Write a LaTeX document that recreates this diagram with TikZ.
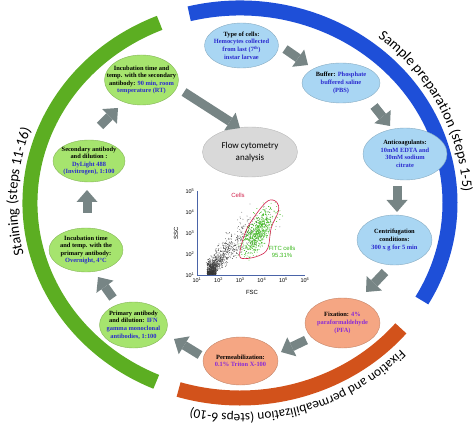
\documentclass[tikz,border=0pt]{standalone}
\usepackage{fontspec}
\setmainfont{Liberation Serif}
\newfontfamily\carlito{Carlito}
\newfontfamily\plotsans{Liberation Sans}
\usetikzlibrary{shapes.geometric,arrows.meta,decorations.text,calc}
\definecolor{ringblue}{HTML}{1E4FD8}
\definecolor{ringgreen}{HTML}{5CAE22}
\definecolor{ringorange}{HTML}{D2521B}
\definecolor{fillblue}{HTML}{A9D6F3}
\definecolor{fillgreen}{HTML}{A6E46E}
\definecolor{fillorange}{HTML}{F5A683}
\definecolor{fillgray}{HTML}{D9D9D9}
\definecolor{arrowgray}{HTML}{778585}
\definecolor{txtblue}{HTML}{2A2ACF}
\definecolor{txtpurple}{HTML}{8A2BD6}
\definecolor{gatered}{HTML}{D0204A}
\definecolor{fitcgreen}{HTML}{3CB81E}
\definecolor{axisblue}{HTML}{4A64A8}
\newcommand\bt[1]{\textcolor{txtblue}{#1}}
\newcommand\pu[1]{\textcolor{txtpurple}{#1}}
\newcommand\arcfont{\carlito\fontsize{14.5}{14.5}\selectfont}
\newcommand\arcfontb{\carlito\fontsize{13.3}{13.3}\selectfont}
\begin{document}
\begin{tikzpicture}[x=1pt,y=1pt,
  stepnode/.style={ellipse, inner sep=0pt, line width=0.4pt},
  bluenode/.style={stepnode, fill=fillblue, draw=fillblue!80!black},
  greennode/.style={stepnode, fill=fillgreen, draw=fillgreen!80!black},
  orangenode/.style={stepnode, fill=fillorange, draw=fillorange!80!black},
  graynode/.style={stepnode, fill=fillgray, draw=fillgray!85!black},
  nodetext/.style={align=center, inner sep=0pt, font=\bfseries\fontsize{6.4}{7.6}\selectfont},
  fatarrow/.style={draw=arrowgray, line width=9pt, -{Triangle[width=21pt,length=12pt,line width=0pt,fill=arrowgray]}},
  ring/.style={line width=15pt},
  ticklab/.style={font=\plotsans\fontsize{5.5}{6}\selectfont, inner sep=0.5pt},
]
\useasboundingbox (0,0) rectangle (474,429);
\coordinate (C) at (240,226);
% rings
\draw[ring, ringblue] (C) ++(104:210 and 195) arc[start angle=104, end angle=-30, x radius=210, y radius=195];
\draw[ring, ringgreen] (C) ++(112.5:210 and 195) arc[start angle=112.5, end angle=246.5, x radius=210, y radius=195];
\draw[ring, ringorange] (C) ++(-107:210 and 195) arc[start angle=-107, end angle=-40, x radius=210, y radius=195];
% ring texts
\path[decorate, decoration={text along path, text align=center, text={|\arcfont|Sample preparation (steps 1-5)}}]
  (C) ++(72:223 and 211) arc[start angle=72, end angle=-18, x radius=223, y radius=211];
\path[decorate, decoration={text along path, text align=center, text={|\arcfont|Staining (steps 11-16)}}]
  (C) ++(215:223 and 211) arc[start angle=215, end angle=139, x radius=223, y radius=211];
\path[decorate, decoration={text along path, text align=center, text={|\arcfontb|Fixation and permeabilization (steps 6-10)}}]
  (C) ++(-18:223 and 211) arc[start angle=-18, end angle=-128, x radius=223, y radius=211];
% step nodes
\node[bluenode, minimum width=74pt, minimum height=45pt] (n1) at (241.5,383.5) {};
\node[nodetext] (t1) at (n1) {Type of cells:\\\bt{Hemocytes collected}\\\bt{from last (7\textsuperscript{th})}\\\bt{instar larvae}};
\node[bluenode, minimum width=78pt, minimum height=40pt] (n2) at (341,346) {};
\node[nodetext] (t2) at (n2) {Buffer: \bt{Phosphate}\\\bt{buffered saline}\\\bt{(PBS)}};
\node[bluenode, minimum width=84pt, minimum height=52pt] (n3) at (405,275) {};
\node[nodetext] (t3) at (n3) {Anticoagulants:\\\bt{10mM EDTA and}\\\bt{30mM sodium}\\\bt{citrate}};
\node[bluenode, minimum width=75pt, minimum height=50pt] (n4) at (394.5,189) {};
\node[nodetext] (t4) at (n4) {Centrifugation\\conditions:\\\bt{300 x g for 5 min}};
\node[orangenode, minimum width=75pt, minimum height=50pt] (n5) at (342.5,106) {};
\node[nodetext] (t5) at (n5) {Fixation: \pu{4\%}\\\pu{paraformaldehyde}\\\pu{(PFA)}};
\node[orangenode, minimum width=75pt, minimum height=48pt] (n6) at (240.5,68) {};
\node[nodetext] (t6) at (n6) {Permeabilization:\\\pu{0.1\% Triton X-100}};
\node[greennode, minimum width=68pt, minimum height=46pt] (n7) at (133.5,104) {};
\node[nodetext] (t7) at (n7) {Primary antibody\\and dilution: \bt{IFN}\\\bt{gamma monoclonal}\\\bt{antibodies, 1:100}};
\node[greennode, minimum width=74pt, minimum height=44pt] (n8) at (86,179) {};
\node[nodetext] (t8) at (n8) {Incubation time\\and temp. with the\\primary antibody:\\\bt{Overnight, 4°C}};
\node[greennode, minimum width=72pt, minimum height=42pt] (n9) at (89,268) {};
\node[nodetext] (t9) at (n9) {Secondary antibody\\and dilution :\\\bt{DyLight 488}\\\bt{(Invitrogen), 1:100}};
\node[greennode, minimum width=74pt, minimum height=50pt] (n10) at (141.5,349) {};
\node[nodetext] (t10) at (n10) {Incubation time and\\temp. with the secondary\\antibody: \bt{90 min, room}\\\bt{temperature (RT)}};
\node[graynode, minimum width=95pt, minimum height=50pt] (n11) at (250,277) {};
\node[align=center, inner sep=0pt, font=\carlito\fontsize{9}{11.5}\selectfont] (t11) at (n11) {Flow cytometry\\analysis};
% arrows
\coordinate (a1s) at (285,380); \coordinate (a1e) at (308,364);
\coordinate (a2s) at (374,323); \coordinate (a2e) at (390,303);
\coordinate (a3s) at (397,243); \coordinate (a3e) at (397,217);
\coordinate (a4s) at (385,157); \coordinate (a4e) at (366,137);
\coordinate (a5s) at (306,89);  \coordinate (a5e) at (281,77);
\coordinate (a6s) at (200,74);  \coordinate (a6e) at (174,90);
\coordinate (a7s) at (113,131); \coordinate (a7e) at (98,152);
\coordinate (a8s) at (87,216);  \coordinate (a8e) at (87,239);
\coordinate (a9s) at (100,303); \coordinate (a9e) at (118,321);
\coordinate (a10s) at (184,337); \coordinate (a10e) at (240,301);
\foreach \k in {1,...,10}{\draw[fatarrow] (a\k s) -- (a\k e);}
% plot
\coordinate (O) at (197,154);
\begin{scope}
\pgfmathsetseed{11}
\foreach \k in {1,...,380}{
  \pgfmathsetmacro{\qx}{0.47+0.42*rnd}
  \pgfmathsetmacro{\qy}{0.03+0.75*rnd*rnd}
  \fill[black!80] ({197+21.6*\qx},{154+21*\qy}) circle[radius=0.45];
}
\foreach \k in {1,...,700}{
  \pgfmathsetmacro{\qt}{rnd*rnd}
  \pgfmathsetmacro{\qn}{(rnd+rnd-1)*0.8*(0.45+\qt)}
  \pgfmathsetmacro{\qx}{max(0.35,0.65+2.7*\qt-0.7*\qn)}
  \pgfmathsetmacro{\qy}{max(0.03,0.35+2.8*\qt+0.7*\qn)}
  \fill[black!75] ({197+21.6*\qx},{154+21*\qy}) circle[radius=0.4];
}
\foreach \k in {1,...,650}{
  \pgfmathsetmacro{\qs}{(rnd+rnd+rnd-1.5)*1.2}
  \pgfmathsetmacro{\qp}{(rnd+rnd+rnd-1.5)*0.48}
  \pgfmathsetmacro{\qx}{2.87+0.5*\qs-0.87*\qp}
  \pgfmathsetmacro{\qy}{2.1+0.87*\qs+0.5*\qp}
  \fill[fitcgreen] ({197+21.6*\qx},{154+21*\qy}) circle[radius=0.45];
}
\end{scope}
\draw[gatered, line width=0.6pt] plot[smooth cycle, tension=0.6] coordinates {(239.6,174.6) (245.6,197.3) (255.3,213.6) (267.8,228.1) (276.7,226.9) (278.4,217.8) (271.3,201.3) (267.8,180.7) (259.0,173.3) (244.7,170.4)};
\draw[axisblue, line width=0.5pt] (197,238) -- (O) -- (305,154);
\foreach \e [count=\j from 0] in {1,...,6}{
  \node[ticklab, anchor=north] (xl\e) at ({197+21.6*\j},152) {10\textsuperscript{\e}};
}
\foreach \e [count=\j from 0] in {1,...,5}{
  \node[ticklab, anchor=east] (yl\e) at (195,{154+21*\j}) {10\textsuperscript{\e}};
}
\node[ticklab, font=\plotsans\fontsize{6}{6}\selectfont] (fsc) at (252,137) {FSC};
\node[ticklab, font=\plotsans\fontsize{6}{6}\selectfont, rotate=90] (ssc) at (176,196) {SSC};
\node[font=\plotsans\fontsize{6}{6}\selectfont, text=gatered, inner sep=0pt] (cells) at (238,234) {Cells};
\node[font=\plotsans\fontsize{6}{7}\selectfont, text=fitcgreen, align=center, inner sep=0pt] (fitc) at (282,177) {FITC cells\\95.31\%};
\end{tikzpicture}
\end{document}
